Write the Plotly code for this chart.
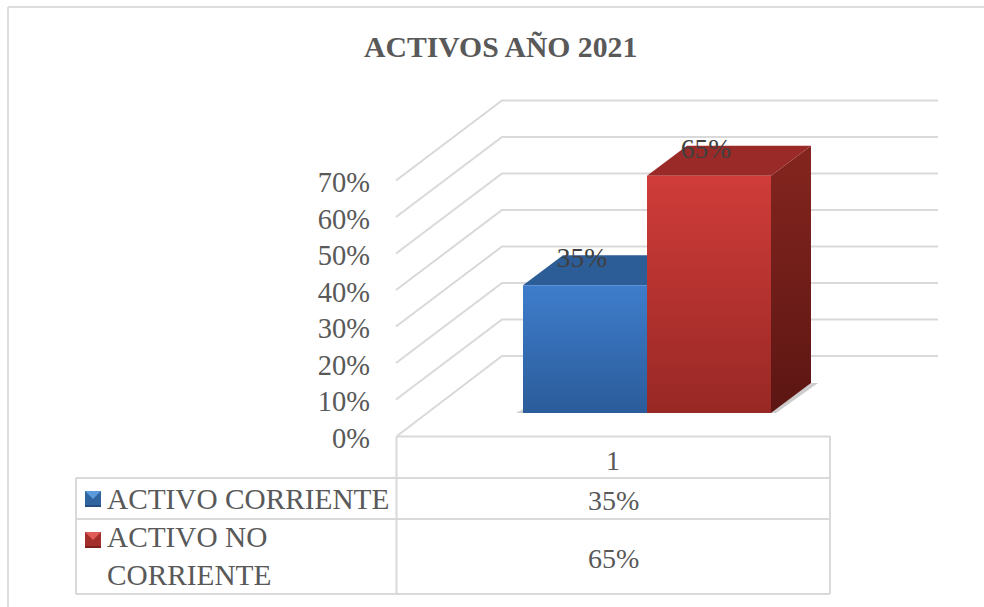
import plotly.graph_objects as go

TITLE = "ACTIVOS AÑO 2021"
SERIES = ["ACTIVO CORRIENTE", "ACTIVO NO<br>CORRIENTE"]
VALUES = [35, 65]
CATEGORY = "1"
TICKS = [0, 10, 20, 30, 40, 50, 60, 70]

W, H = 984, 607
FONT = "Liberation Serif"
GRID = "#D9D9D9"
TXT = "#595959"
PX = 3.65              # pixels per percentage point
ZERO_PX = 436
BACK = 80 / PX         # wall depth in axis units
BAR_LIFT = 23 / PX     # bar base above front floor edge
BAR_DY = 30 / PX
BAR_DX = 40
BAR_W = 124
BAR_X0 = 523
X_FRONT, X_BACK, X_END = 397, 502, 938

FRONT = [("#3E7DCC", "#2B5C9A"), ("#D03C39", "#982825")]
TOPC = ["#2D5D97", "#9A2A28"]
SIDE = [("#2A5A94", "#1F4470"), ("#85251F", "#5C1613")]

fig = go.Figure()


def poly(xs, ys, color=None, grad=None, line=None):
    kw = dict(x=xs + xs[:1], y=ys + ys[:1], mode="lines", fill="toself",
              hoverinfo="skip", showlegend=False,
              line=dict(width=1 if line else 0, color=line or "rgba(0,0,0,0)"))
    if grad:
        kw["fillgradient"] = dict(type="vertical",
                                  colorscale=[[0, grad[1]], [1, grad[0]]])
    else:
        kw["fillcolor"] = color
    fig.add_trace(go.Scatter(**kw))


# walls and grid
for t in TICKS:
    x_start = X_FRONT if t == 0 else X_FRONT - 1
    fig.add_trace(go.Scatter(x=[x_start, X_BACK, X_END], y=[t, t + BACK, t + BACK],
                             mode="lines", hoverinfo="skip", showlegend=False,
                             line=dict(color=GRID, width=2)))

# bars
for i, v in enumerate(VALUES):
    x0 = BAR_X0 + i * BAR_W
    x1 = x0 + BAR_W
    b = BAR_LIFT
    t = BAR_LIFT + v
    # contact shadow
    poly([x1, x1 + BAR_DX, x1 + BAR_DX + 7, x1 + 5],
         [b, b + BAR_DY, b + BAR_DY, b], color="rgba(130,130,130,0.4)")
    poly([x0 - 7, x0, x0], [b, b, b + 1], color="rgba(130,130,130,0.4)")
    poly([x1, x1 + BAR_DX, x1 + BAR_DX, x1], [b, b + BAR_DY, t + BAR_DY, t], grad=SIDE[i])
    poly([x0, x0 + BAR_DX, x1 + BAR_DX, x1], [t, t + BAR_DY, t + BAR_DY, t], color=TOPC[i])
for i, v in enumerate(VALUES):
    x0 = BAR_X0 + i * BAR_W
    x1 = x0 + BAR_W
    poly([x0, x1, x1, x0], [BAR_LIFT, BAR_LIFT, BAR_LIFT + v, BAR_LIFT + v], grad=FRONT[i])

# data labels
fig.add_trace(go.Scatter(
    x=[BAR_X0 + i * BAR_W + BAR_W / 2 - 3 for i in range(len(VALUES))],
    y=[BAR_LIFT + v + 25 / PX for v in VALUES],
    text=[f"{v}%" for v in VALUES], mode="text", textposition="middle center",
    textfont=dict(family=FONT, size=27.5, color="#404040"),
    hoverinfo="skip", showlegend=False))

shapes = []


def fx(p):
    return p / W


def fy(p):
    return 1 - p / H


def seg(x0, y0, x1, y1, color=GRID, width=2):
    shapes.append(dict(type="line", xref="paper", yref="paper", x0=fx(x0), y0=fy(y0),
                       x1=fx(x1), y1=fy(y1), line=dict(color=color, width=width)))


def path(pts, color):
    d = "M " + " L ".join(f"{fx(a)},{fy(b)}" for a, b in pts) + " Z"
    shapes.append(dict(type="path", xref="paper", yref="paper", path=d,
                       fillcolor=color, line=dict(width=0)))


# outer frame
seg(8, 7, 984, 7, color="#DDDDDD")
seg(8, 7, 8, 607, color="#DDDDDD")
# data table
seg(397, 436.5, 830, 436.5)
seg(76, 478, 830, 478)
seg(76, 519, 830, 519)
seg(76, 594, 830, 594)
seg(76, 478, 76, 594)
seg(396.5, 436, 396.5, 594)
seg(830, 436, 830, 594)

# legend keys
KEY_BODY = ["#2F649F", "#A32E2C"]
KEY_TOP = ["#5B9BDD", "#E05C58"]
KEY_EDGE = ["#234E80", "#7C1F1D"]
for y0, body, tp, edge in zip([491, 532], KEY_BODY, KEY_TOP, KEY_EDGE):
    path([(85, y0), (101, y0), (101, y0 + 16), (85, y0 + 16)], body)
    path([(85, y0), (101, y0), (93, y0 + 8)], tp)
    path([(85, y0 + 14), (101, y0 + 14), (101, y0 + 16), (85, y0 + 16)], edge)

ann = []


def label(x, y, text, size=28, color=TXT, anchor="center", bold=False, align="center"):
    ann.append(dict(xref="paper", yref="paper", x=fx(x), y=fy(y), text=f"<b>{text}</b>" if bold else text,
                    showarrow=False, xanchor=anchor, yanchor="middle", align=align,
                    font=dict(family=FONT, size=size, color=color)))


label(500, 47, TITLE, size=29.7, bold=True)
label(613, 460.5, CATEGORY)
label(613, 500, f"{VALUES[0]}%")
label(613, 558, f"{VALUES[1]}%")
label(105, 499, SERIES[0], size=29.3, anchor="left", align="left")
label(105, 556, SERIES[1], size=29.3, anchor="left", align="left")

fig.update_layout(
    width=W, height=H, margin=dict(l=0, r=0, t=0, b=0),
    paper_bgcolor="white", plot_bgcolor="white", showlegend=False,
    shapes=shapes, annotations=ann,
    xaxis=dict(range=[0, W], visible=False, domain=[0, 1], fixedrange=True),
    yaxis=dict(range=[(ZERO_PX - H) / PX, ZERO_PX / PX], anchor="free", position=370 / W,
               side="left", tickmode="array", tickvals=TICKS, ticktext=[f"{t}%" for t in TICKS],
               tickfont=dict(family=FONT, size=28.5, color=TXT), showgrid=False, zeroline=False,
               showline=False, ticks="", fixedrange=True, ticklabelshift=2),
)
fig.write_html("out.html", config={"displayModeBar": False},
               post_script="document.body.style.margin='0';document.body.style.overflow='hidden';")
